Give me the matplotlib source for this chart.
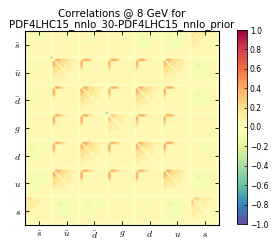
import numpy as np
import matplotlib
matplotlib.use('Agg')
import matplotlib.pyplot as plt

#%% data
flavours = [r'$\bar{s}$', r'$\bar{u}$', r'$\bar{d}$', r'$g$', r'$d$', r'$u$', r'$s$']
cbar_ticks = [-1.0, -0.8, -0.6, -0.4, -0.2, 0.0, 0.2, 0.4, 0.6, 0.8, 1.0]
title = 'Correlations @ 8 GeV for\nPDF4LHC15_nnlo_30-PDF4LHC15_nnlo_prior'

# correlation level for each character used in the block patterns
levels = {'.': -0.01, '-': -0.06, '=': -0.12, 'y': 0.04, 'Y': 0.1,
          'o': 0.18, 'O': 0.28, 'R': 0.4, 'B': -0.4}

# 12 x points per flavour, one pattern per kind of block
pat_Q = ["YRRRoYyyyyy.",
         "Ryyyyyyyyyy.",
         "Ryyyyyyyyyy.",
         "Oyyyyyyyyyy.",
         "oyyyyyyyyyy.",
         "Yyyyyyyyyyy.",
         "yyyyyyyyyyy.",
         "yyyyyyyyYyy.",
         "yyyyyyyyyyy.",
         "yyyyyyyyyyy.",
         "yyyyyyyyyyy.",
         "............"]
pat_D = [".RROoooYYYy.",
         "R.OoooYYYyy.",
         "RO.ooYYYyyy.",
         "Ooo.oYYYyyy.",
         "oooo.YYYyyy.",
         "ooYYY.Yyyyy.",
         "oYYYYY.yyyy.",
         "YYYYYyy.yyy.",
         "YYyyyyyy.yy.",
         "Yyyyyyyyy.y.",
         "yyyyyyyyyy..",
         "............"]
pat_d = [".OOoYYYYYyy.",
         "O.oYYYYYyyy.",
         "Oo.YYYYyyyy.",
         "oYY.YYYyyyy.",
         "YYYY.YYyyyy.",
         "YYYYY.yyyyy.",
         "YYYYyy.yyyy.",
         "YYyyyyy.yyy.",
         "Yyyyyyyy.yy.",
         "yyyyyyyyy.y.",
         "yyyyyyyyyy..",
         "............"]
pat_S = [".yyy---yyyy.",
         "y.yy----yyy.",
         "yy.yy---yyy.",
         "yyy.yy--yyy.",
         "-yyy.yy-yyy.",
         "--yyy.yyyyy.",
         "---yyy.yyyy.",
         "----yyy.yyy.",
         "y---yyyy.yy.",
         "yyyyyyyyy.y.",
         "yyyyyyyyyy..",
         "............"]
pat_T = ["YooYYYYyyyy.",
         "oYYYYYYyyyy.",
         "oYYYYYyyyyy.",
         "YYYYYyyyyyy.",
         "YYYYyyyyyyy.",
         "YYYyyyyyyyy.",
         "YYyyyyyyyyy.",
         "yyyyyyyyyyy.",
         "yyyyyyyyyyy.",
         "yyyyyyyyyyy.",
         "yyyyyyyyyyy.",
         "............"]
pat_G = ["yyyyyyyyyyy.",
         "y---------y.",
         "y-==-----yy.",
         "y-==-----yy.",
         "y--------yy.",
         "y--------yy.",
         "y-------yyy.",
         "y------yyyy.",
         "y-----yyyyy.",
         "yyyyyyyyyyy.",
         "yyyyyyyyyyy.",
         "............"]
pat_g = ["yyyyyyyyyyy.",
         "yyyy---yyyy.",
         "yyy----yyyy.",
         "yy-----yyyy.",
         "yy----yyyyy.",
         "yyy--yyyyyy.",
         "yyyyyyyyyyy.",
         "yyyyyyyyyyy.",
         "yyyyyyyyyyy.",
         "yyyyyyyyyyy.",
         "yyyyyyyyyyy.",
         "............"]
pat_P = ["yyyyyyyyyyy."] * 11 + ["............"]

patterns = {'Q': pat_Q, 'D': pat_D, 'd': pat_d, 'S': pat_S,
            'T': pat_T, 'G': pat_G, 'g': pat_g, 'P': pat_P}

# upper triangle of the flavour x flavour block layout
layout = ["SggPGGT",
          " DQQQDG",
          "  DQDQG",
          "   dQQP",
          "    DQg",
          "     DG",
          "      d"]

# small greyish specks on the diagonal at some block corners
specks = [11, 35]

#%% build the matrix
n = len(pat_Q)
nf = len(flavours)
corr = np.zeros((n * nf, n * nf))
for a in range(nf):
    for b in range(a, nf):
        blk = np.array([[levels[c] for c in row] for row in patterns[layout[a][b]]])
        corr[a * n:(a + 1) * n, b * n:(b + 1) * n] = blk
corr = np.triu(corr) + np.triu(corr, 1).T
for k in specks:
    corr[k, k] = levels['B']

#%% plot
plt.rcParams['mathtext.fontset'] = 'cm'
fig = plt.figure(figsize=(2.77, 2.44), dpi=100)
ax = fig.add_axes([25 / 277, 19 / 244, 194 / 277, 194 / 244])
cax = fig.add_axes([237 / 277, 20 / 244, 10 / 277, 194 / 244])

im = ax.imshow(corr, cmap='Spectral_r', vmin=-1, vmax=1, aspect='auto')
centres = [k * n + (n - 1) / 2 for k in range(nf)]
ax.set_xticks(centres)
ax.set_xticklabels(flavours, fontsize=7)
ax.set_yticks(centres)
ax.set_yticklabels(flavours, fontsize=7)
ax.tick_params(direction='in', top=True, right=True, length=3, width=0.6, pad=3)
for s in ax.spines.values():
    s.set_linewidth(0.8)
ax.set_title(title, fontsize=7.4, pad=3, linespacing=1.05)

cb = fig.colorbar(im, cax=cax, ticks=cbar_ticks)
cb.ax.tick_params(labelsize=5.5, direction='in', length=2, width=0.5, pad=2)
cb.outline.set_linewidth(0.6)

fig.savefig('out.png', dpi=100)
